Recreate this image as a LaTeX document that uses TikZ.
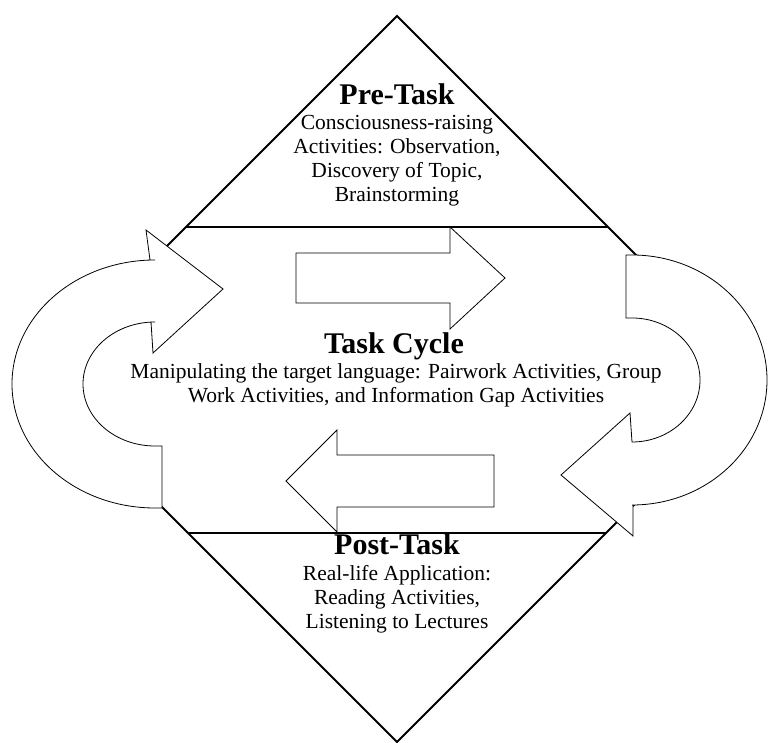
\documentclass[tikz,border=0pt]{standalone}
\usepackage{fontspec}
\setmainfont{Liberation Serif}

\begin{document}
\begin{tikzpicture}[x=1pt,y=1pt,
    frame/.style={line width=1.8pt},
    band/.style={line width=1.2pt},
    blockarrow/.style={draw,fill=white,line width=0.8pt,line join=miter},
    heading/.style={font=\fontsize{30}{32}\selectfont\bfseries},
    body/.style={align=center,font=\fontsize{21.5}{24}\selectfont}]

    \useasboundingbox (0,0) rectangle (770,743);

    \coordinate (top) at (397,727);
    \coordinate (right) at (760,364);
    \coordinate (bottom) at (397,1);
    \coordinate (left) at (34,364);
    \coordinate (preL) at (186,516);
    \coordinate (preR) at (608,516);
    \coordinate (postL) at (188,210);
    \coordinate (postR) at (606,210);

    \draw[frame] (top) -- (right) -- (bottom) -- (left) -- cycle;
    \draw[band] (preL) -- (preR);
    \draw[band] (postL) -- (postR);

    \draw[blockarrow] (296,490) -- (450,490) -- (450,516) -- (505,465) -- (450,414) -- (450,440) -- (296,440) -- cycle;
    \draw[blockarrow] (494,288) -- (337,288) -- (337,313) -- (286,262) -- (337,211) -- (337,236) -- (494,236) -- cycle;

    \draw[blockarrow] (162,235) -- (162,297) -- (155,297)
        arc[start angle=-90, end angle=-270, x radius=72, y radius=62]
        -- (151,421) -- (153,390) -- (223,454) -- (146,513) -- (150,483) -- (155,483)
        arc[start angle=90, end angle=270, x radius=143, y radius=124] -- cycle;
    \draw[blockarrow] (626,488) -- (632,488)
        arc[start angle=90, end angle=-90, x radius=135, y radius=125]
        -- (633,238) -- (633,207) -- (561,268) -- (630,330) -- (632,301)
        arc[start angle=-90, end angle=90, x radius=68, y radius=62] -- (626,425) -- cycle;

    \node[heading] (pretitle) at (397,649) {Pre-Task};
    \node[body] (pretext) at (397,582) {Consciousness-raising\\Activities: Observation,\\Discovery of Topic,\\Brainstorming};
    \node[heading] (cycletitle) at (394,397) {Task Cycle};
    \node[body] (cycletext) at (396,358) {Manipulating the target language: Pairwork Activities, Group\\Work Activities, and Information Gap Activities};
    \node[heading] (posttitle) at (397,199) {Post-Task};
    \node[body] (posttext) at (397,144) {Real-life Application:\\Reading Activities,\\Listening to Lectures};
\end{tikzpicture}
\end{document}
